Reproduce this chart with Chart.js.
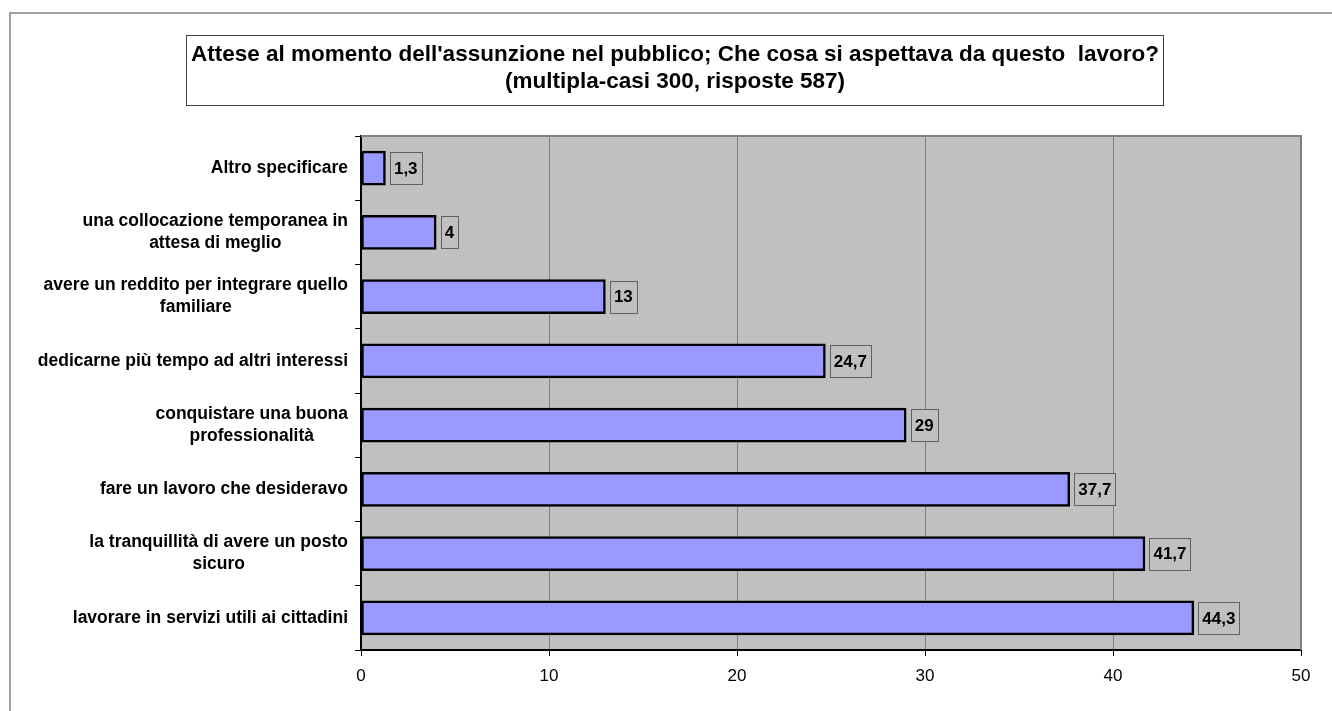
<!DOCTYPE html>
<html>
<head>
<meta charset="utf-8">
<script src="https://cdn.jsdelivr.net/npm/chart.js@4/dist/chart.umd.min.js"></script>
<style>
  html, body { margin: 0; padding: 0; background: #fff; }
  #wrap { width: 1332px; height: 711px; }
</style>
</head>
<body>
<div id="wrap"><canvas id="chart1" width="1332" height="711"></canvas></div>
<script>
const ctx1 = document.getElementById('chart1').getContext('2d');

// data (top to bottom)
const categories = [
  ['Altro specificare'],
  ['una collocazione temporanea in', 'attesa di meglio'],
  ['avere un reddito per integrare quello', 'familiare'],
  ['dedicarne più tempo ad altri interessi'],
  ['conquistare una buona', 'professionalità'],
  ['fare un lavoro che desideravo'],
  ['la tranquillità di avere un posto', 'sicuro'],
  ['lavorare in servizi utili ai cittadini'],
];
const values = [1.3, 4, 13, 24.7, 29, 37.7, 41.7, 44.3];
const xTicks = [0, 10, 20, 30, 40, 50];
const titleLines = [
  "Attese al momento dell'assunzione nel pubblico; Che cosa si aspettava da questo  lavoro?",
  '(multipla-casi 300, risposte 587)',
];

const FONT = '"Liberation Sans", Arial, sans-serif';

function fmt(v) {
  return String(v).replace('.', ',');
}

// background, outer frame, title box and plot area fill
const backPlugin = {
  id: 'backPlugin',
  beforeDraw(chart) {
    const c = chart.ctx;
    const a = chart.chartArea;
    c.save();
    c.fillStyle = '#fff';
    c.fillRect(0, 0, chart.width, chart.height);
    // outer frame (only top and left are visible)
    c.strokeStyle = '#a0a0a0';
    c.lineWidth = 2;
    c.beginPath();
    c.moveTo(10, chart.height + 5);
    c.lineTo(10, 13);
    c.lineTo(chart.width + 5, 13);
    c.stroke();
    // title box
    c.strokeStyle = '#404040';
    c.lineWidth = 1;
    c.strokeRect(186.5, 35.5, 977, 70);
    c.fillStyle = '#000';
    c.font = 'bold 22.5px ' + FONT;
    c.textAlign = 'center';
    c.textBaseline = 'middle';
    c.fillText(titleLines[0], 675, 55);
    c.fillText(titleLines[1], 675, 82);
    // plot background
    c.fillStyle = '#c0c0c0';
    c.fillRect(a.left, a.top, a.right - a.left, a.bottom - a.top);
    c.restore();
  },
  afterDraw(chart) {
    const c = chart.ctx;
    const a = chart.chartArea;
    const yScale = chart.scales.y;
    c.save();
    // top and right plot border
    c.strokeStyle = '#808080';
    c.lineWidth = 2;
    c.beginPath();
    c.moveTo(a.left, a.top);
    c.lineTo(a.right, a.top);
    c.lineTo(a.right, a.bottom);
    c.stroke();

    // category labels, lines centred, block right aligned
    c.fillStyle = '#000';
    c.font = 'bold 17.5px ' + FONT;
    c.textAlign = 'center';
    c.textBaseline = 'middle';
    categories.forEach(function(lines, i) {
      const w = Math.max(...lines.map((l) => c.measureText(l).width));
      const cx = 348 - w / 2;
      const cy = yScale.getPixelForValue(i);
      lines.forEach(function(l, k) {
        c.fillText(l, cx, cy + (k - (lines.length - 1) / 2) * 22);
      });
    });

    // value labels in boxes
    c.font = 'bold 17px ' + FONT;
    const meta = chart.getDatasetMeta(0);
    meta.data.forEach(function(bar, i) {
      const txt = fmt(values[i]);
      const tw = c.measureText(txt).width;
      const bx = bar.x + 4.5;
      const by = bar.y - 16;
      c.fillStyle = '#c0c0c0';
      c.fillRect(bx, by, tw + 8, 32);
      c.strokeStyle = '#606060';
      c.lineWidth = 1;
      c.strokeRect(Math.round(bx) + 0.5, Math.round(by) + 0.5, Math.round(tw + 8), 32);
      c.fillStyle = '#000';
      c.fillText(txt, bx + (tw + 8) / 2, bar.y + 1);
    });
    c.restore();
  },
};

new Chart(ctx1, {
  type: 'bar',
  data: {
    labels: categories,
    datasets: [
      {
        data: values,
        backgroundColor: '#9999ff',
        borderColor: '#000',
        borderWidth: 2.5,
        borderSkipped: false,
        barThickness: 34,
      },
    ],
  },
  options: {
    indexAxis: 'y',
    responsive: false,
    animation: false,
    devicePixelRatio: 1,
    layout: { padding: { top: 136, right: 31, left: 0, bottom: 0 } },
    plugins: {
      legend: { display: false },
      tooltip: { enabled: false },
    },
    scales: {
      y: {
        ticks: { display: false },
        grid: {
          drawOnChartArea: false,
          drawTicks: true,
          tickLength: 6,
          color: '#000',
          offset: true,
        },
        border: { color: '#000', width: 2 },
        afterFit: (s) => { s.width = 361; },
      },
      x: {
        min: xTicks[0],
        max: xTicks[xTicks.length - 1],
        afterBuildTicks: (s) => { s.ticks = xTicks.map((v) => ({ value: v })); },
        ticks: {
          color: '#000',
          font: { family: FONT, size: 17 },
          padding: 10,
          maxRotation: 0,
        },
        grid: {
          color: '#808080',
          tickColor: '#000',
          tickLength: 6,
          lineWidth: 1,
        },
        border: { color: '#000', width: 2 },
        afterFit: (s) => { s.height = 61; },
      },
    },
  },
  plugins: [backPlugin],
});
</script>
</body>
</html>
